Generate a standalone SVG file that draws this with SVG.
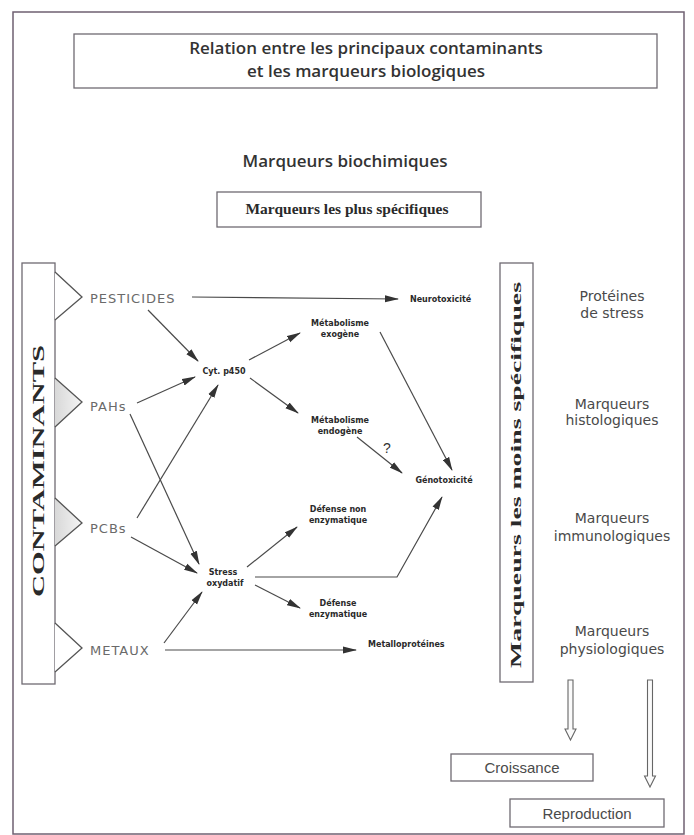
<svg xmlns="http://www.w3.org/2000/svg" width="694" height="835" viewBox="0 0 694 835">
<defs>
<style>
.frame{fill:none;stroke:#6f6072;stroke-width:1.5}
.box{fill:#fff;stroke:#6f6a72;stroke-width:1.3}
.title{font-family:"Open Sans","Liberation Sans",sans-serif;font-weight:600;font-size:17px;fill:#333;text-anchor:middle}
.serifb{font-family:"Liberation Serif",serif;font-weight:bold;fill:#2a2a2a}
.cont{font-family:"DejaVu Sans",sans-serif;font-size:13px;fill:#6a6a6a;letter-spacing:1px}
.node{font-family:"DejaVu Sans",sans-serif;font-weight:bold;font-size:8px;fill:#2a2a2a;text-anchor:middle}
.nodel{font-family:"DejaVu Sans",sans-serif;font-weight:bold;font-size:8px;fill:#2a2a2a;text-anchor:start}
.right{font-family:"DejaVu Sans",sans-serif;font-size:14px;fill:#4a4a4a;text-anchor:middle}
.lbl{font-family:"Liberation Sans",sans-serif;font-size:15px;fill:#4a4a4a;text-anchor:middle}
.conn{fill:none;stroke:#4a4a4a;stroke-width:1.2}
.tri{stroke:#555;stroke-width:1.3}
.hollow{fill:#fafafa;stroke:#666;stroke-width:1.1}
</style>
<marker id="ah" markerWidth="14" markerHeight="8" refX="13" refY="4" orient="auto" markerUnits="userSpaceOnUse">
<path d="M0,0.5 L14,4 L0,7.5 z" fill="#333"/>
</marker>
<linearGradient id="tg" x1="0" y1="0" x2="1" y2="0">
<stop offset="0" stop-color="#d8d8d8"/>
<stop offset="1" stop-color="#f4f4f4"/>
</linearGradient>
</defs>
<rect width="694" height="835" fill="#fff"/>
<rect class="frame" x="13" y="12" width="671" height="822"/>

<g id="title">
<rect class="box" x="74" y="34" width="583" height="54"/>
<text class="title" x="366" y="54">Relation entre les principaux contaminants</text>
<text class="title" x="366" y="77">et les marqueurs biologiques</text>
</g>

<g id="biochimiques">
<text class="title" x="345" y="167">Marqueurs biochimiques</text>
</g>

<g id="plus-specifiques">
<rect class="box" x="217" y="192" width="264" height="35"/>
<text class="serifb" x="347" y="214" font-size="14" text-anchor="middle" textLength="203" lengthAdjust="spacingAndGlyphs">Marqueurs les plus spécifiques</text>
</g>

<g id="contaminants">
<rect class="box" x="22" y="263" width="33" height="421"/>
<text class="serifb" transform="translate(44,471) rotate(-90)" x="0" y="0" font-size="17" text-anchor="middle" textLength="252" lengthAdjust="spacingAndGlyphs">CONTAMINANTS</text>
</g>

<g id="pesticides">
<path class="tri" d="M55,272 L82,297 L55,320" fill="#fff"/>
<text class="cont" x="90" y="303">PESTICIDES</text>
</g>
<g id="pahs">
<path class="tri" d="M55,378 L82,402 L55,427" fill="url(#tg)"/>
<text class="cont" x="90" y="411">PAHs</text>
</g>
<g id="pcbs">
<path class="tri" d="M55,498 L82,523 L55,546" fill="url(#tg)"/>
<text class="cont" x="90" y="533">PCBs</text>
</g>
<g id="metaux">
<path class="tri" d="M55,623 L82,648 L55,672" fill="#fff"/>
<text class="cont" x="90" y="655">METAUX</text>
</g>

<g id="cyt"><text class="node" x="224" y="374">Cyt. p450</text></g>
<g id="stress"><text class="node" x="223" y="575">Stress</text><text class="node" x="225" y="586">oxydatif</text></g>
<g id="neurotox"><text class="nodel" x="410" y="302">Neurotoxicité</text></g>
<g id="met-exo"><text class="node" x="340" y="326">Métabolisme</text><text class="node" x="340" y="337">exogène</text></g>
<g id="met-endo"><text class="node" x="340" y="423">Métabolisme</text><text class="node" x="340" y="434">endogène</text></g>
<g id="genotox"><text class="node" x="444" y="483">Génotoxicité</text></g>
<g id="def-non-enz"><text class="node" x="338" y="512">Défense non</text><text class="node" x="338" y="523">enzymatique</text></g>
<g id="def-enz"><text class="node" x="338" y="606">Défense</text><text class="node" x="338" y="617">enzymatique</text></g>
<g id="metallo"><text class="nodel" x="368" y="647">Metalloprotéines</text></g>

<g id="moins-specifiques">
<rect class="box" x="500" y="263" width="33" height="419"/>
<text class="serifb" transform="translate(521,475) rotate(-90)" x="0" y="0" font-size="15" text-anchor="middle" textLength="386" lengthAdjust="spacingAndGlyphs">Marqueurs les moins spécifiques</text>
</g>

<g id="proteines"><text class="right" x="612" y="301">Protéines</text><text class="right" x="612" y="318">de stress</text></g>
<g id="histo"><text class="right" x="612" y="409">Marqueurs</text><text class="right" x="612" y="425">histologiques</text></g>
<g id="immuno"><text class="right" x="612" y="523">Marqueurs</text><text class="right" x="612" y="541">immunologiques</text></g>
<g id="physio"><text class="right" x="612" y="636">Marqueurs</text><text class="right" x="612" y="654">physiologiques</text></g>

<g id="croissance">
<rect class="box" x="451" y="754" width="142" height="27"/>
<text class="lbl" x="522" y="773">Croissance</text>
</g>
<g id="reproduction">
<rect class="box" x="510" y="799" width="154" height="28"/>
<text class="lbl" x="587" y="819">Reproduction</text>
</g>

<g id="connectors">
<path class="conn" d="M192,297 L398,299" stroke="#7d6585" marker-end="url(#ah)"/>
<path class="conn" d="M148,310 L198,361" marker-end="url(#ah)"/>
<path class="conn" d="M137,403 L195,377" marker-end="url(#ah)"/>
<path class="conn" d="M137,518 L218,385" marker-end="url(#ah)"/>
<path class="conn" d="M130,414 L199,564" marker-end="url(#ah)"/>
<path class="conn" d="M131,537 L197,573" marker-end="url(#ah)"/>
<path class="conn" d="M164,643 L202,592" marker-end="url(#ah)"/>
<path class="conn" d="M165,650 L356,650" marker-end="url(#ah)"/>
<path class="conn" d="M249,360 L300,333" marker-end="url(#ah)"/>
<path class="conn" d="M250,378 L298,413" marker-end="url(#ah)"/>
<path class="conn" d="M380,332 L452,470" marker-end="url(#ah)"/>
<path class="conn" d="M357,437 L402,473" marker-end="url(#ah)"/>
<path class="conn" d="M247,567 L297,527" marker-end="url(#ah)"/>
<path class="conn" d="M255,577 L397,577 L442,497" marker-end="url(#ah)"/>
<path class="conn" d="M255,585 L300,608" marker-end="url(#ah)"/>
<path class="hollow" d="M568,680 L573,680 L573,729 L576,729 L570.5,740 L565,729 L568,729 z"/>
<path class="hollow" d="M647.5,680 L652.5,680 L652.5,776 L655.5,776 L650,787 L644.5,776 L647.5,776 z"/>
</g>
<text x="387" y="453" font-family="Liberation Sans,sans-serif" font-size="14" fill="#333" text-anchor="middle">?</text>
</svg>
